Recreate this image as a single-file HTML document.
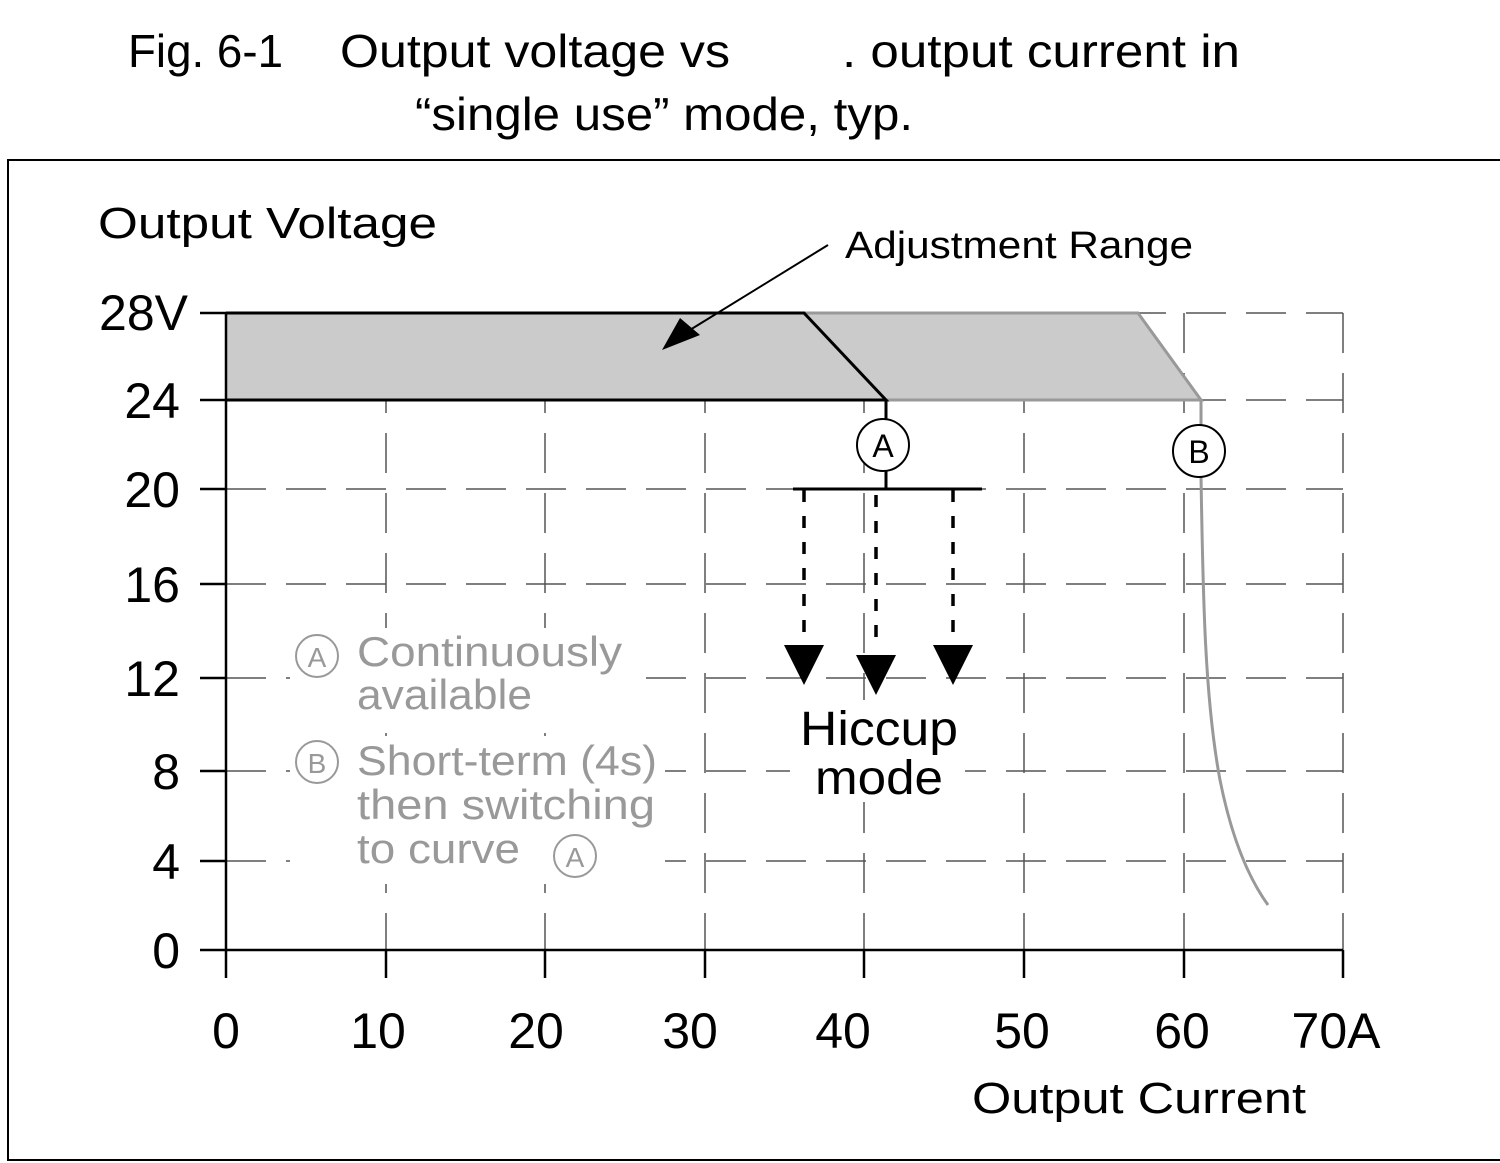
<!DOCTYPE html>
<html><head><style>
html,body{margin:0;padding:0;background:#fff;width:1500px;height:1163px;overflow:hidden}
svg{display:block}
text{font-family:"Liberation Sans",sans-serif}
</style></head><body>
<svg width="1500" height="1163" viewBox="0 0 1500 1163">
<text x="128" y="67" font-size="46" textLength="155" lengthAdjust="spacingAndGlyphs">Fig. 6-1</text>
<text x="340" y="67" font-size="46" textLength="390" lengthAdjust="spacingAndGlyphs">Output voltage vs</text>
<text x="842" y="67" font-size="46" textLength="398" lengthAdjust="spacingAndGlyphs">. output current in</text>
<text x="415" y="130" font-size="46" textLength="498" lengthAdjust="spacingAndGlyphs">“single use” mode, typ.</text>
<rect x="8" y="160" width="1500" height="1000" fill="none" stroke="#000" stroke-width="2"/>
<g stroke="#555" stroke-width="1.5" stroke-dasharray="40,20" fill="none">
<path d="M226 313H1343M226 400H1343M226 489H1343M226 584H1343M226 678H1343M226 771H1343M226 861H1343"/>
<path d="M386 313V950M545 313V950M705 313V950M864 313V950M1024 313V950M1184 313V950M1343 313V950"/>
</g>
<g fill="#fff">
<rect x="290" y="628" width="345" height="92"/>
<rect x="290" y="736" width="375" height="148"/>
<rect x="790" y="700" width="175" height="102"/>
</g>
<polygon points="226,313 1138,313 1201,400 226,400" fill="#cbcbcb"/>
<path d="M226 313V978M200 950H1343" stroke="#000" stroke-width="2.5" fill="none"/>
<g stroke="#000" stroke-width="2.5">
<path d="M200 313H226M200 400H226M200 489H226M200 584H226M200 678H226M200 771H226M200 861H226"/>
<path d="M386 950V978M545 950V978M705 950V978M864 950V978M1024 950V978M1184 950V978M1343 950V978"/>
</g>
<g stroke="#999" stroke-width="3" fill="none">
<path d="M804 313H1138L1201 400H886"/>
<path d="M1201 400V476"/>
<path d="M1201 476 C1203 600 1205 700 1220 780 C1232 840 1250 880 1268 905"/>
</g>
<g stroke="#000" stroke-width="3" fill="none">
<path d="M226 313H804L886 400H226"/>
<path d="M886 400V419M886 471V489M793 489H982"/>
</g>
<circle cx="883" cy="445" r="26" fill="#fff" stroke="#000" stroke-width="2"/>
<text x="883" y="457" font-size="32" text-anchor="middle">A</text>
<circle cx="1199" cy="451" r="26" fill="#fff" stroke="#000" stroke-width="2"/>
<text x="1199" y="463" font-size="32" text-anchor="middle">B</text>
<g stroke="#000" stroke-width="3.5" stroke-dasharray="12,14">
<path d="M804 490V645M876 495V650M953 490V645"/>
</g>
<polygon points="784,645 824,645 804,685" fill="#000"/>
<polygon points="856,655 896,655 876,695" fill="#000"/>
<polygon points="933,645 973,645 953,685" fill="#000"/>
<path d="M828 245L685 333" stroke="#000" stroke-width="2"/>
<polygon points="662,350 700,335 680,318" fill="#000"/>
<text x="98" y="238" font-size="44" textLength="339" lengthAdjust="spacingAndGlyphs">Output Voltage</text>
<text x="845" y="258" font-size="38" textLength="348" lengthAdjust="spacingAndGlyphs">Adjustment Range</text>
<g font-size="50" text-anchor="end">
<text x="188" y="330">28V</text><text x="180" y="418">24</text><text x="180" y="507">20</text>
<text x="180" y="602">16</text><text x="180" y="696">12</text><text x="180" y="789">8</text>
<text x="180" y="879">4</text><text x="180" y="968">0</text>
</g>
<g font-size="50" text-anchor="middle">
<text x="226" y="1048">0</text><text x="378" y="1048">10</text><text x="536" y="1048">20</text>
<text x="690" y="1048">30</text><text x="843" y="1048">40</text><text x="1022" y="1048">50</text>
<text x="1182" y="1048">60</text><text x="1336" y="1048">70A</text>
</g>
<text x="972" y="1113" font-size="44" textLength="334" lengthAdjust="spacingAndGlyphs">Output Current</text>
<text x="800" y="745" font-size="48" textLength="158" lengthAdjust="spacingAndGlyphs">Hiccup</text>
<text x="815" y="794" font-size="48" textLength="128" lengthAdjust="spacingAndGlyphs">mode</text>
<g fill="#999" font-size="42">
<circle cx="317" cy="656" r="21" fill="none" stroke="#999" stroke-width="2"/>
<text x="317" y="667" font-size="28" text-anchor="middle">A</text>
<text x="357" y="666" textLength="265" lengthAdjust="spacingAndGlyphs">Continuously</text>
<text x="357" y="709" textLength="175" lengthAdjust="spacingAndGlyphs">available</text>
<circle cx="317" cy="762" r="21" fill="none" stroke="#999" stroke-width="2"/>
<text x="317" y="773" font-size="28" text-anchor="middle">B</text>
<text x="357" y="775" textLength="300" lengthAdjust="spacingAndGlyphs">Short-term (4s)</text>
<text x="357" y="819" textLength="298" lengthAdjust="spacingAndGlyphs">then switching</text>
<text x="357" y="863" textLength="163" lengthAdjust="spacingAndGlyphs">to curve</text>
<circle cx="575" cy="856" r="21" fill="none" stroke="#999" stroke-width="2"/>
<text x="575" y="867" font-size="28" text-anchor="middle">A</text>
</g>
</svg>
</body></html>
